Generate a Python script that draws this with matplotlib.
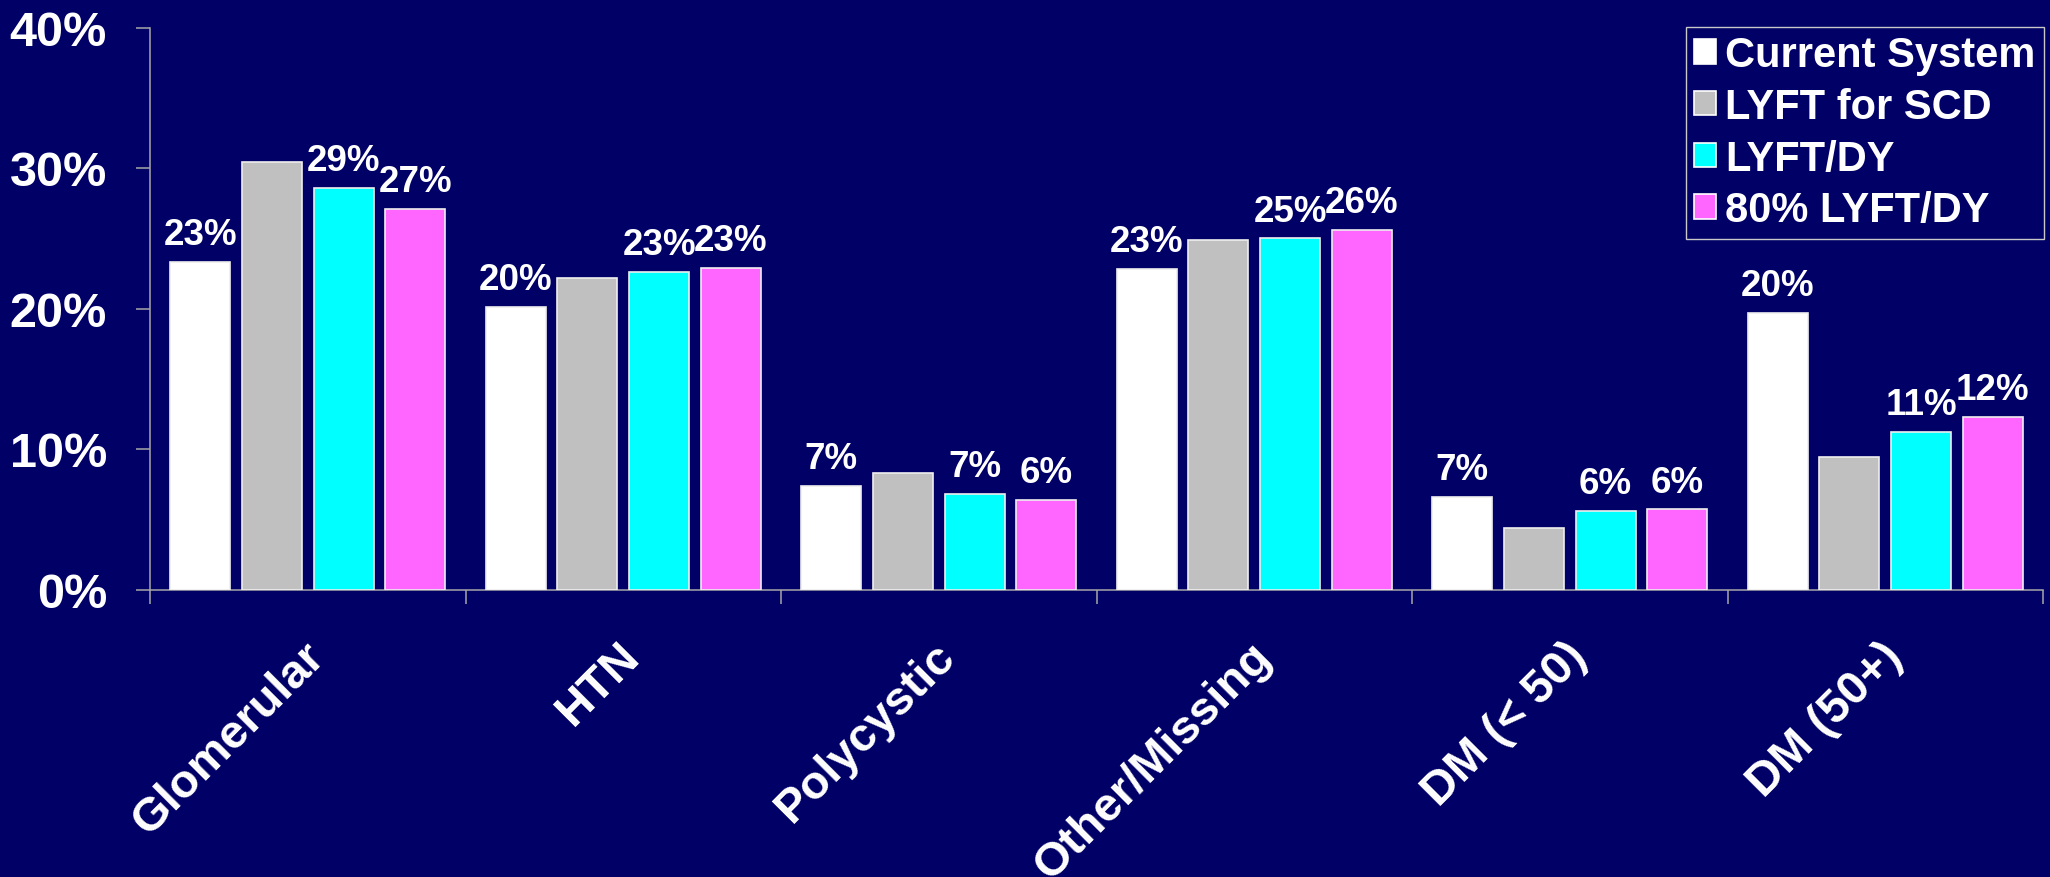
import numpy as np
import matplotlib
matplotlib.use("Agg")
import matplotlib.pyplot as plt
from matplotlib.patches import Patch
from matplotlib.ticker import FixedLocator, NullFormatter, FixedFormatter
import matplotlib.transforms as mtransforms

# Primary diagnosis shares by allocation system
categories = ["Glomerular", "HTN", "Polycystic", "Other/Missing", "DM (< 50)", "DM (50+)"]
series_names = ["Current System", "LYFT for SCD", "LYFT/DY", "80% LYFT/DY"]
current_system = [23.3, 20.1, 7.4, 22.8, 6.6, 19.7]
lyft_scd = [30.4, 22.2, 8.3, 24.9, 4.4, 9.4]
lyft_dy = [28.6, 22.6, 6.8, 25.0, 5.6, 11.2]
lyft_dy_80 = [27.1, 22.9, 6.4, 25.6, 5.7, 12.3]
labelled = [True, False, True, True]
y_ticks = [0, 10, 20, 30, 40]
y_tick_labels = ["0%", "10%", "20%", "30%", "40%"]

bg = "#000066"
bar_colors = ["#FFFFFF", "#C0C0C0", "#00FFFF", "#FF66FF"]
axis_color = "#A6A6A6"
font = "Liberation Sans"

fig = plt.figure(figsize=(20.5, 8.78), dpi=100, facecolor=bg)
ax = fig.add_axes([150 / 2050, 1 - 590.5 / 878, (2043 - 150) / 2050, (590.5 - 28.5) / 878])
ax.set_facecolor(bg)

x = np.arange(len(categories))
pitch = 0.2273
width = 0.19
all_series = [current_system, lyft_scd, lyft_dy, lyft_dy_80]

for i, (vals, name, col, lab) in enumerate(zip(all_series, series_names, bar_colors, labelled)):
    pos = x + (i - 1.5) * pitch
    ax.bar(pos, vals, width=width, color=col, edgecolor="#EEEEEE",
           linewidth=1.2, label=name, zorder=3)
    if lab:
        for p, v in zip(pos, vals):
            ax.annotate(f"{v:.0f}%", xy=(p, v), xytext=(0, 7), textcoords="offset points",
                        ha="center", va="bottom", color="white", fontsize=26.5,
                        fontweight="bold", family=font, zorder=4)

ax.set_xlim(-0.5, len(categories) - 0.5)
ax.set_ylim(0, 40)

# Spines
for side in ["top", "right"]:
    ax.spines[side].set_visible(False)
for side in ["left", "bottom"]:
    ax.spines[side].set_color(axis_color)
    ax.spines[side].set_linewidth(1.1)

# Y axis
ax.yaxis.set_major_locator(FixedLocator(y_ticks))
ax.yaxis.set_major_formatter(FixedFormatter(y_tick_labels))
ax.tick_params(axis="y", which="major", direction="out", length=10, width=1.1,
               color=axis_color, pad=21, labelsize=35, labelcolor="white")
for t in ax.get_yticklabels():
    t.set_fontweight("bold")
    t.set_family(font)

# X axis: ticks at category boundaries, labels at category centres
ax.xaxis.set_major_locator(FixedLocator(np.arange(len(categories) + 1) - 0.5))
ax.xaxis.set_major_formatter(NullFormatter())
ax.xaxis.set_minor_locator(FixedLocator(x))
ax.xaxis.set_minor_formatter(FixedFormatter(categories))
ax.tick_params(axis="x", which="major", direction="out", length=10, width=1.1, color=axis_color)
ax.tick_params(axis="x", which="minor", length=0, pad=43, labelsize=34, labelcolor="white")
shift = mtransforms.ScaledTranslation(10 / 100, 0, fig.dpi_scale_trans)
for t in ax.get_xticklabels(minor=True):
    t.set_rotation(45)
    t.set_rotation_mode("anchor")
    t.set_ha("right")
    t.set_va("center")
    t.set_fontweight("bold")
    t.set_family(font)
    t.set_transform(t.get_transform() + shift)

# Legend
handles = [Patch(facecolor=c, edgecolor="white", linewidth=1.2) for c in bar_colors]
leg = fig.legend(handles, series_names, loc="upper right",
                 bbox_to_anchor=(2044 / 2050, 1 - 28 / 878), bbox_transform=fig.transFigure,
                 borderaxespad=0, frameon=True, fancybox=False, facecolor=bg,
                 edgecolor="#C8C8C8", framealpha=1,
                 prop={"family": font, "weight": "bold", "size": 30},
                 handlelength=0.52, handleheight=0.52, handletextpad=0.22,
                 labelspacing=0.28, borderpad=0.2)
leg.get_frame().set_linewidth(1.0)
for t in leg.get_texts():
    t.set_color("white")

fig.savefig("out.png", dpi=100, facecolor=bg)
